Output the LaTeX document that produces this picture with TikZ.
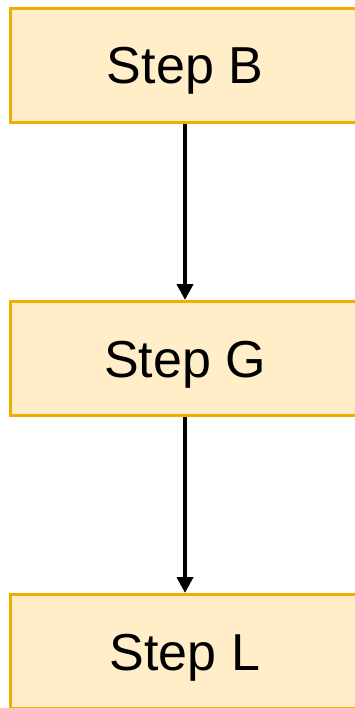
\documentclass[tikz,border=0pt]{standalone}
\usepackage{fontspec}
\setmainfont{Liberation Sans}
\usepackage{tikz}
\usetikzlibrary{positioning,arrows.meta}
\definecolor{stepfill}{RGB}{255,238,200}
\definecolor{stepline}{RGB}{240,174,0}

\begin{document}
\begin{tikzpicture}[
  x=1pt, y=1pt,
  node distance=176pt,
  stepbox/.style={draw=stepline, fill=stepfill, line width=3pt,
                  minimum width=350pt, minimum height=114pt,
                  text height=37pt, text depth=0pt,
                  font=\fontsize{52}{60}\selectfont},
  arr/.style={-{Triangle[length=16pt, width=16pt]}, line width=4pt},
]
\useasboundingbox (0,0) rectangle (354,-708);

% Steps
\node[stepbox] (stepB) at (185,-65.5) {Step B};
\node[stepbox, below=of stepB] (stepG) {Step G};
\node[stepbox, below=of stepG] (stepL) {Step L};

% Connections
\draw[arr] (stepB) -- (stepG);
\draw[arr] (stepG) -- (stepL);
\end{tikzpicture}
\end{document}
